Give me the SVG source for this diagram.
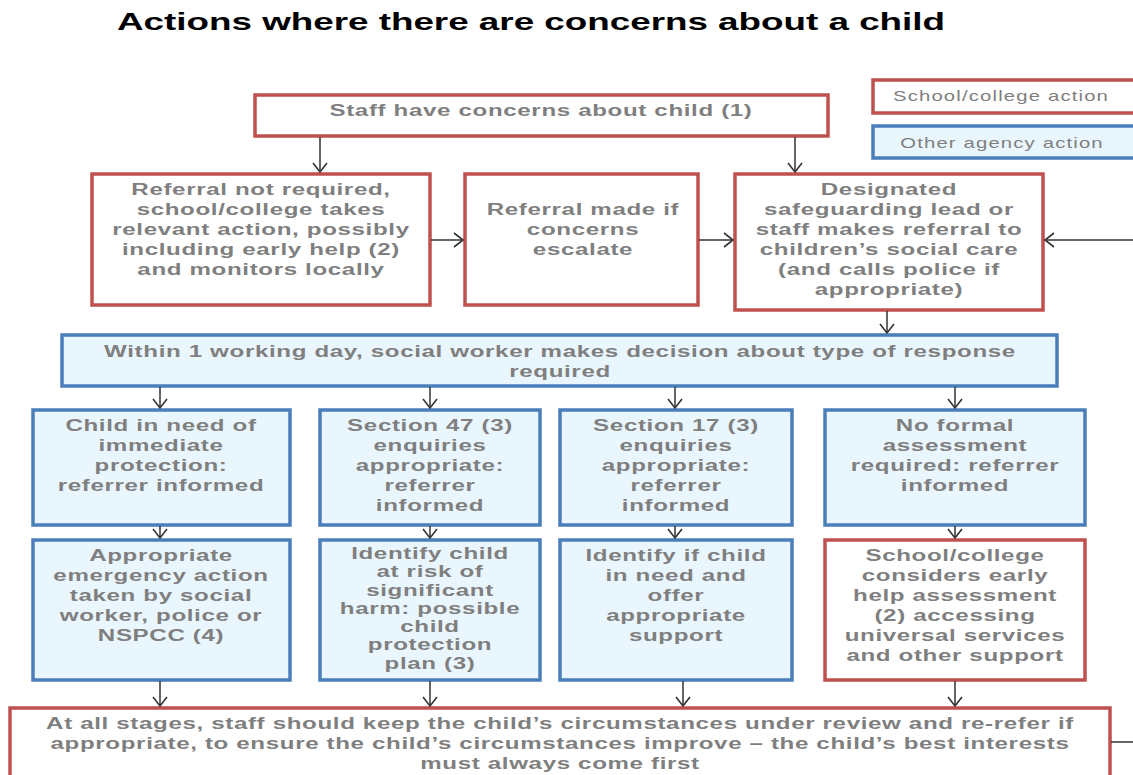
<svg xmlns="http://www.w3.org/2000/svg" width="1133" height="775" viewBox="0 0 1133 775">
<style>
.r{fill:#ffffff;stroke:#c0504d;stroke-width:3.5}
.b{fill:#eaf6fe;stroke:#4a7ebb;stroke-width:3.5}
.t{font-family:"Liberation Sans",Arial,sans-serif;font-weight:bold;font-size:17px;fill:#7f7f7f;text-anchor:middle;letter-spacing:0.45px}
.l{font-family:"Liberation Sans",Arial,sans-serif;font-size:14px;fill:#808080;text-anchor:middle;letter-spacing:0.8px}
.h{font-family:"Liberation Sans",Arial,sans-serif;font-weight:bold;font-size:24px;fill:#000000}
.c{stroke:#333333;stroke-width:1.5;fill:none;marker-end:url(#ah)}
.p{stroke:#333333;stroke-width:1.5;fill:none}
</style>
<defs>
<marker id="ah" markerUnits="userSpaceOnUse" markerWidth="14" markerHeight="16" refX="10" refY="8" orient="auto">
<path d="M1,1 L10,8 L1,15" fill="none" stroke="#333333" stroke-width="1.6"/>
</marker>
</defs>
<rect width="1133" height="775" fill="#ffffff"/>
<text class="h" x="117" y="30" textLength="828" lengthAdjust="spacingAndGlyphs">Actions where there are concerns about a child</text>

<g id="legend-school">
<rect class="r" x="873" y="80" width="270" height="33"/>
<text class="l" transform="translate(1001,101) scale(1.45,1)">School/college action</text>
</g>
<g id="legend-agency">
<rect class="b" x="873" y="126" width="270" height="32"/>
<text class="l" transform="translate(1002,148) scale(1.45,1)">Other agency action</text>
</g>

<g id="staff">
<rect class="r" x="255" y="95" width="573" height="41"/>
<text class="t" transform="translate(541,116) scale(1.42,1)">Staff have concerns about child (1)</text>
</g>

<g id="not-required">
<rect class="r" x="92" y="174" width="338" height="131"/>
<text class="t" transform="translate(261,195) scale(1.42,1)"><tspan x="0">Referral not required,</tspan><tspan x="0" dy="20">school/college takes</tspan><tspan x="0" dy="20">relevant action, possibly</tspan><tspan x="0" dy="20">including early help (2)</tspan><tspan x="0" dy="20">and monitors locally</tspan></text>
</g>

<g id="referral-escalate">
<rect class="r" x="465" y="174" width="233" height="131"/>
<text class="t" transform="translate(583,215) scale(1.42,1)"><tspan x="0">Referral made if</tspan><tspan x="0" dy="20">concerns</tspan><tspan x="0" dy="20">escalate</tspan></text>
</g>

<g id="dsl-referral">
<rect class="r" x="735" y="174" width="308" height="136"/>
<text class="t" transform="translate(889,195) scale(1.42,1)"><tspan x="0">Designated</tspan><tspan x="0" dy="20">safeguarding lead or</tspan><tspan x="0" dy="20">staff makes referral to</tspan><tspan x="0" dy="20">children’s social care</tspan><tspan x="0" dy="20">(and calls police if</tspan><tspan x="0" dy="20">appropriate)</tspan></text>
</g>

<g id="social-worker-decision">
<rect class="b" x="62" y="335" width="995" height="51"/>
<text class="t" transform="translate(560,357) scale(1.42,1)"><tspan x="0">Within 1 working day, social worker makes decision about type of response</tspan><tspan x="0" dy="20">required</tspan></text>
</g>

<g id="immediate-protection">
<rect class="b" x="33" y="410" width="257" height="115"/>
<text class="t" transform="translate(161,431) scale(1.42,1)"><tspan x="0">Child in need of</tspan><tspan x="0" dy="20">immediate</tspan><tspan x="0" dy="20">protection:</tspan><tspan x="0" dy="20">referrer informed</tspan></text>
</g>

<g id="section-47">
<rect class="b" x="320" y="410" width="220" height="115"/>
<text class="t" transform="translate(430,431) scale(1.42,1)"><tspan x="0">Section 47 (3)</tspan><tspan x="0" dy="20">enquiries</tspan><tspan x="0" dy="20">appropriate:</tspan><tspan x="0" dy="20">referrer</tspan><tspan x="0" dy="20">informed</tspan></text>
</g>

<g id="section-17">
<rect class="b" x="560" y="410" width="232" height="115"/>
<text class="t" transform="translate(676,431) scale(1.42,1)"><tspan x="0">Section 17 (3)</tspan><tspan x="0" dy="20">enquiries</tspan><tspan x="0" dy="20">appropriate:</tspan><tspan x="0" dy="20">referrer</tspan><tspan x="0" dy="20">informed</tspan></text>
</g>

<g id="no-formal">
<rect class="b" x="825" y="410" width="260" height="115"/>
<text class="t" transform="translate(955,431) scale(1.42,1)"><tspan x="0">No formal</tspan><tspan x="0" dy="20">assessment</tspan><tspan x="0" dy="20">required: referrer</tspan><tspan x="0" dy="20">informed</tspan></text>
</g>

<g id="emergency-action">
<rect class="b" x="33" y="540" width="257" height="140"/>
<text class="t" transform="translate(161,561) scale(1.42,1)"><tspan x="0">Appropriate</tspan><tspan x="0" dy="20">emergency action</tspan><tspan x="0" dy="20">taken by social</tspan><tspan x="0" dy="20">worker, police or</tspan><tspan x="0" dy="20">NSPCC (4)</tspan></text>
</g>

<g id="significant-harm">
<rect class="b" x="320" y="540" width="220" height="140"/>
<text class="t" transform="translate(430,559) scale(1.42,1)"><tspan x="0">Identify child</tspan><tspan x="0" dy="18.3">at risk of</tspan><tspan x="0" dy="18.3">significant</tspan><tspan x="0" dy="18.3">harm: possible</tspan><tspan x="0" dy="18.3">child</tspan><tspan x="0" dy="18.3">protection</tspan><tspan x="0" dy="18.3">plan (3)</tspan></text>
</g>

<g id="child-in-need">
<rect class="b" x="560" y="540" width="232" height="140"/>
<text class="t" transform="translate(676,561) scale(1.42,1)"><tspan x="0">Identify if child</tspan><tspan x="0" dy="20">in need and</tspan><tspan x="0" dy="20">offer</tspan><tspan x="0" dy="20">appropriate</tspan><tspan x="0" dy="20">support</tspan></text>
</g>

<g id="early-help">
<rect class="r" x="825" y="540" width="260" height="140"/>
<text class="t" transform="translate(955,561) scale(1.42,1)"><tspan x="0">School/college</tspan><tspan x="0" dy="20">considers early</tspan><tspan x="0" dy="20">help assessment</tspan><tspan x="0" dy="20">(2) accessing</tspan><tspan x="0" dy="20">universal services</tspan><tspan x="0" dy="20">and other support</tspan></text>
</g>

<g id="all-stages">
<rect class="r" x="10" y="708" width="1100" height="80"/>
<text class="t" transform="translate(560,729) scale(1.42,1)"><tspan x="0">At all stages, staff should keep the child’s circumstances under review and re-refer if</tspan><tspan x="0" dy="20">appropriate, to ensure the child’s circumstances improve – the child’s best interests</tspan><tspan x="0" dy="20">must always come first</tspan></text>
</g>

<g id="connectors">
<line class="c" x1="320" y1="137" x2="320" y2="172"/>
<line class="c" x1="795" y1="137" x2="795" y2="172"/>
<line class="c" x1="431" y1="240" x2="463" y2="240"/>
<line class="c" x1="699" y1="240" x2="733" y2="240"/>
<line class="c" x1="1133" y1="240" x2="1045" y2="240"/>
<line class="c" x1="887" y1="311" x2="887" y2="333"/>
<line class="c" x1="160" y1="387" x2="160" y2="408"/>
<line class="c" x1="430" y1="387" x2="430" y2="408"/>
<line class="c" x1="675" y1="387" x2="675" y2="408"/>
<line class="c" x1="955" y1="387" x2="955" y2="408"/>
<line class="c" x1="160" y1="526" x2="160" y2="538"/>
<line class="c" x1="430" y1="526" x2="430" y2="538"/>
<line class="c" x1="675" y1="526" x2="675" y2="538"/>
<line class="c" x1="955" y1="526" x2="955" y2="538"/>
<line class="c" x1="160" y1="681" x2="160" y2="706"/>
<line class="c" x1="430" y1="681" x2="430" y2="706"/>
<line class="c" x1="683" y1="681" x2="683" y2="706"/>
<line class="c" x1="955" y1="681" x2="955" y2="706"/>
<line class="p" x1="1111" y1="742" x2="1133" y2="742"/>
</g>
</svg>
